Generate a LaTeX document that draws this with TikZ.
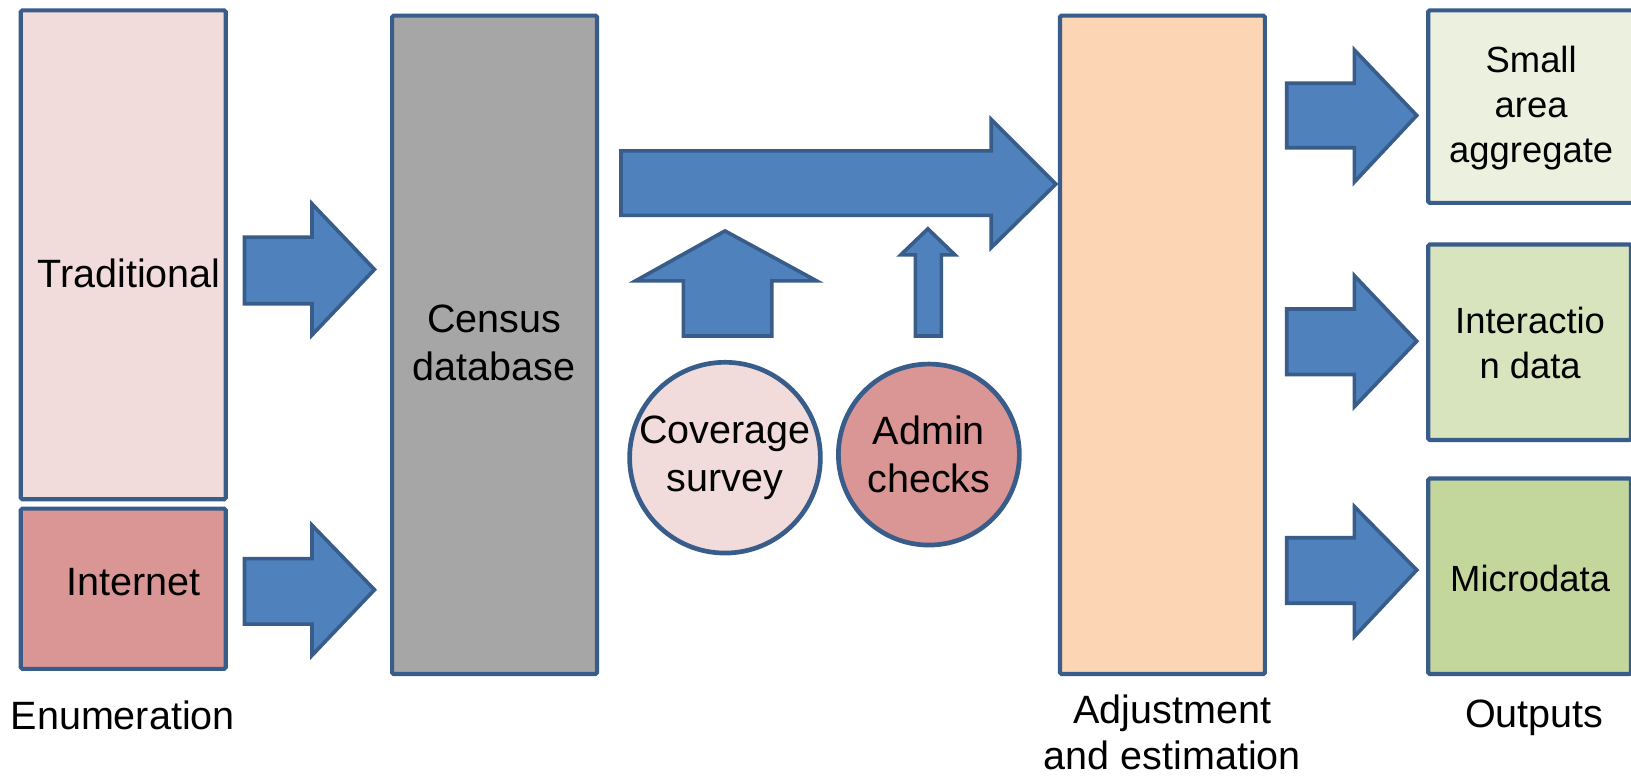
\documentclass[tikz,border=0pt]{standalone}
\usepackage{fontspec}
\setmainfont{Liberation Sans}
\definecolor{pinkL}{HTML}{F2DCDB}
\definecolor{pinkD}{HTML}{D99694}
\definecolor{grayC}{HTML}{A6A6A6}
\definecolor{peach}{HTML}{FCD5B5}
\definecolor{greenA}{HTML}{EBF1DE}
\definecolor{greenB}{HTML}{D7E4BD}
\definecolor{greenC}{HTML}{C3D69B}
\definecolor{arrowfill}{HTML}{4F81BD}
\definecolor{edge}{HTML}{385D8A}
\newcommand\blockR[8]{% x0, ytop, ybot, xhead, headtop, headbot, xtip, ytip
  \draw[blockarrow] (#1,#2) -- (#4,#2) -- (#4,#5) -- (#7,#8) -- (#4,#6) -- (#4,#3) -- (#1,#3) -- cycle;}
\newcommand\blockU[8]{% xl, xr, ybottom, yhead, headleft, headright, xtip, ytip
  \draw[blockarrow] (#1,#3) -- (#1,#4) -- (#5,#4) -- (#7,#8) -- (#6,#4) -- (#2,#4) -- (#2,#3) -- cycle;}
\begin{document}
\begin{tikzpicture}[x=1pt,y=-1pt,
  box/.style={draw=edge, line width=4pt, rounded corners=1.5pt, inner sep=0pt},
  roundbox/.style={circle, draw=edge, line width=4.5pt, inner sep=0pt, align=center, font=\bigtext},
  blockarrow/.style={fill=arrowfill, draw=edge, line width=3.5pt, line join=miter},
  txt/.style={align=center, inner sep=0pt, font=\bigtext},
  otxt/.style={align=center, inner sep=0pt, font=\smalltext}]
\newcommand\bigtext{\fontsize{38}{46}\selectfont}
\newcommand\smalltext{\fontsize{35}{43}\selectfont}
\useasboundingbox (0,0) rectangle (1568,747);
\fill[white] (0,0) rectangle (1568,747);
% boxes
\node[box, fill=pinkL, minimum width=197, minimum height=470] (trad) at (118.5,245) {};
\node[box, fill=pinkD, minimum width=197, minimum height=154] (inet) at (118.5,566) {};
\node[box, fill=grayC, minimum width=197, minimum height=633] (census) at (475.5,331.5) {};
\node[box, fill=peach, minimum width=197, minimum height=633] (adj) at (1117.5,331.5) {};
\node[box, fill=greenA, minimum width=200, minimum height=185] (small) at (1473,102.5) {};
\node[box, fill=greenB, minimum width=195, minimum height=188] (inter) at (1470.5,329) {};
\node[box, fill=greenC, minimum width=195, minimum height=188] (micro) at (1470.5,554) {};
% circles
\node[roundbox, fill=pinkL, minimum size=176] (cov) at (697,440) {Coverage\\survey};
\node[roundbox, fill=pinkD, minimum size=174] (admin) at (893,437) {Admin\\checks};
% texts in boxes
\node[txt] (tradt) at (124,263) {Traditional};
\node[txt] (inett) at (128,560) {Internet};
\node[txt] (censust) at (475,330) {Census\\database};
\node[otxt] (smallt) at (1472,104) {Small\\area\\aggregate};
\node[otxt] (intert) at (1471,330) {Interactio\\n data};
\node[otxt] (microt) at (1471,556) {Microdata};
% bottom labels
\node[txt] (enum) at (118,688) {Enumeration};
\node[txt, font=\fontsize{38}{44}\selectfont] (adjl) at (1127,704) {Adjustment\\and estimation};
\node[txt] (outl) at (1475,690) {Outputs};
% block arrows
\blockR{235}{228}{292}{300}{196}{322}{360}{259}
\blockR{235}{537}{600}{300}{505}{630}{360}{567}
\blockR{597}{145}{207}{953}{115}{238}{1015}{177}
\blockR{1237}{80}{142}{1302}{48}{175}{1362}{111}
\blockR{1237}{297}{360}{1302}{265}{391}{1362}{328}
\blockR{1237}{517}{580}{1302}{487}{612}{1362}{548}
\blockU{657}{742}{323}{270}{611}{785}{697}{222}
\blockU{880}{905}{323}{245}{866}{918}{892}{220}
\end{tikzpicture}
\end{document}
